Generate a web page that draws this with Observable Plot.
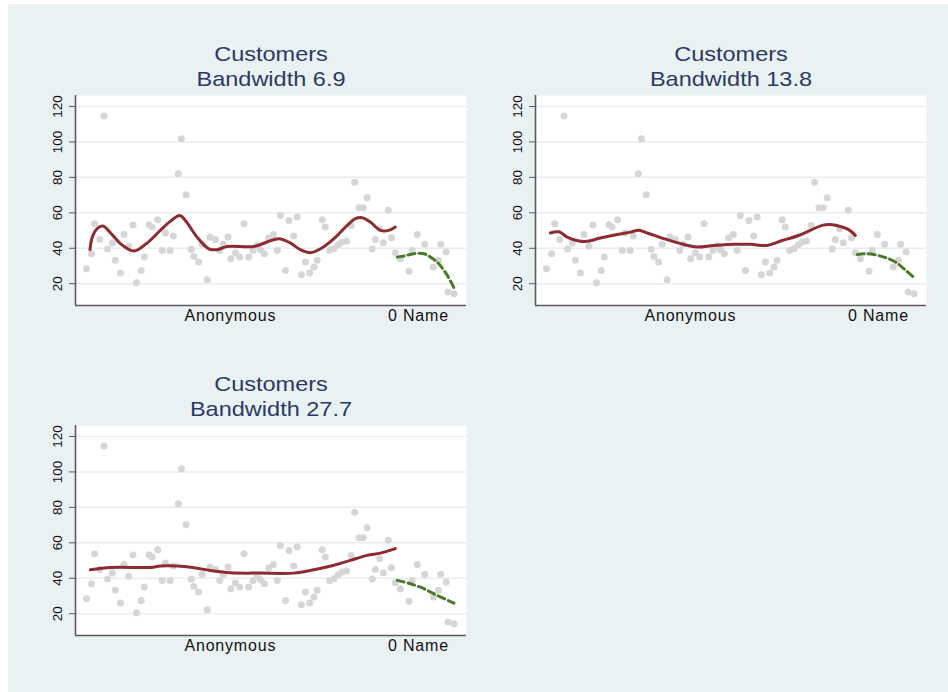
<!DOCTYPE html>
<html>
<head>
<meta charset="utf-8">
<script src="https://cdn.jsdelivr.net/npm/d3@7"></script>
<script src="https://cdn.jsdelivr.net/npm/@observablehq/plot@0.6"></script>
<style>
  html, body { margin: 0; padding: 0; background: #ffffff; }
  #bg { position: absolute; left: 8px; top: 4px; width: 940px; height: 688px; background: #eaf1f3; }
  .title { position: absolute; width: 420px; text-align: center; font-family: "Liberation Sans", Arial, sans-serif;
           font-size: 21px; line-height: 25px; color: #2b3a64; transform: scaleX(1.12); transform-origin: 50% 50%; }
  .panel { position: absolute; }
  .panel g[aria-label="x-axis tick label"] text { letter-spacing: 0.8px; }
</style>
</head>
<body>
<div id="bg"></div>
<script>
// ---- data ----
const yTicks = [20, 40, 60, 80, 100, 120];
const xTickPos = [39.6, 87.7];
const xTickLabels = ["Anonymous", "0 Name"];
const panelTitle = "Customers";
const bandwidths = [6.9, 13.8, 27.7];

// observation position (0-100 along axis) and Customers value
const anonX = [2.8,4.1,4.9,6.2,7.3,8.2,9.4,10.2,11.5,12.4,13.6,14.7,15.6,16.8,17.6,18.8,19.6,21.0,22.2,23.0,24.2,25.0,26.3,27.1,28.3,29.6,30.3,31.5,32.4,33.7,34.4,35.8,36.9,37.8,39.0,39.7,40.9,42.0,43.1,44.3,45.4,46.5,47.3,48.3,49.4,50.6,51.6,52.4,53.7,54.6,55.8,56.7,57.8,58.8,59.9,61.0,61.8,63.1,63.9,65.0,66.1,67.2,68.2,69.3,70.5,71.4,72.5,73.6,74.6,75.9,76.7,77.8,78.7,80.0,80.8];
const anonY = [28.5,36.9,53.8,45,114.6,39.6,43,33.2,26,47.8,41.2,53.1,20.6,27.5,35,53.3,52,56.1,38.8,48.6,38.8,46.9,82,101.8,70.2,39.4,35.4,32.2,42.2,22.3,46.3,45,38.8,42.2,46.3,34.1,37.3,35,53.8,35,38.8,41.6,39.2,36.9,45.9,47.8,38.8,58.5,27.5,55.7,46.9,57.6,25.1,32.2,26,29.4,33.2,56.1,52,38.8,39.7,42,43.5,44.1,52.9,77.3,62.9,62.9,68.5,39.6,45,51,43.1,61.4,45.9];
const nameX = [81.8,83.1,85.3,86.1,87.4,89.3,91.5,92.8,93.4,94.8,95.3,96.8];
const nameY = [37.5,34.1,27,38.8,47.8,42.2,29.4,33.2,42.2,37.9,15.3,14.4];

// lowess curves: [x, y]
const lowessAnon69 = [[3.7,39.2],[4.3,46.3],[5.5,51],[7.0,52.5],[9.0,48.6],[11.5,42.6],[14.9,38.4],[18.3,42.9],[21.7,50.1],[24.3,55.3],[26.7,58.5],[28.1,55.7],[31.1,46.3],[34.1,39.7],[36.2,39.2],[38.8,41],[45.6,41],[49.0,43.5],[52.0,45.4],[55.0,42.9],[57.5,39.2],[60.1,37.5],[62.7,39.7],[66.1,45.4],[69.5,52.9],[71.6,56.7],[73.3,57.2],[75.4,54.8],[78.0,50.1],[80.1,50.1],[81.8,52]];
const lowessName69 = [[82.3,35],[84.0,35.6],[86.5,36.9],[89.1,36.9],[90.8,35],[92.9,31.3],[95.1,24.7],[96.9,17.2]];
const lowessAnon138 = [[3.8,48.6],[6.0,49.3],[8.1,46.3],[11.1,44.1],[13.2,43.9],[16.6,45.8],[20.9,47.8],[24.3,49.1],[26.4,50.1],[28.6,48.6],[32.8,45.4],[37.1,42.6],[41.3,40.7],[45.6,41.6],[50.7,42.2],[55.0,42.2],[59.2,41.6],[62.7,44.1],[66.9,46.9],[70.3,50.1],[73.3,52.9],[75.9,53.3],[78.0,52.3],[80.1,50.5],[81.8,47.3]];
const lowessName138 = [[82.3,36.5],[84.0,36.9],[86.5,36.5],[89.1,35],[91.6,32.8],[94.2,28.5],[96.8,23.4]];
const lowessAnon277 = [[3.8,44.8],[9.0,46.1],[19.2,46.1],[21.7,46.9],[26.0,46.9],[30.3,45.9],[34.5,44.4],[39.6,43.1],[47.3,42.9],[55.8,42.9],[61.0,44.8],[66.1,47.3],[70.3,50.1],[74.6,52.9],[78.0,54.2],[81.8,56.7]];
const lowessName277 = [[82.3,38.8],[85.7,36.9],[89.1,34.1],[92.5,30.3],[96.8,26]];

// ---- build ----
const points = anonX.map((x, i) => ({x, y: anonY[i]}))
  .concat(nameX.map((x, i) => ({x, y: nameY[i]})));
const curves = [
  [lowessAnon69, lowessName69],
  [lowessAnon138, lowessName138],
  [lowessAnon277, lowessName277]
];
const panelPos = [[75, 95], [535, 95], [75, 425]];
const W = 391, H = 210, ML = 45, MT = 5, MB = 30, MR = 5;
const yDomain = [7.7, 126.2];
const xDomain = [0, 100];
const axisColor = "#5a5a5a";
const labelMap = new Map(xTickPos.map((p, i) => [p, xTickLabels[i]]));

curves.forEach(([anon, name], k) => {
  const [px, py] = panelPos[k];
  const title = document.createElement("div");
  title.className = "title";
  title.style.left = (px + W / 2 - 210) + "px";
  title.style.top = (py - 54) + "px";
  title.innerHTML = panelTitle + "<br>Bandwidth " + bandwidths[k];
  document.body.appendChild(title);

  const chart = Plot.plot({
    width: ML + W + MR,
    height: MT + H + MB,
    marginLeft: ML, marginRight: MR, marginTop: MT, marginBottom: MB,
    style: {background: "transparent", fontFamily: "Liberation Sans, Arial, sans-serif", fontSize: "16px", color: "#111"},
    x: {domain: xDomain, axis: null},
    y: {domain: yDomain, axis: null},
    marks: [
      Plot.frame({fill: "white", stroke: null}),
      Plot.gridY(yTicks, {stroke: "#e6eef1", strokeOpacity: 1, strokeWidth: 1.5}),
      Plot.dot(points, {x: "x", y: "y", r: 3.5, fill: "#d6d6d6", stroke: null}),
      Plot.line(anon, {x: d => d[0], y: d => d[1], stroke: "#8c2b30", strokeWidth: 3, curve: "catmull-rom"}),
      Plot.line(name, {x: d => d[0], y: d => d[1], stroke: "#4a7b2a", strokeWidth: 3, strokeDasharray: "7,4", curve: "catmull-rom"}),
      Plot.ruleX([xDomain[0]], {stroke: axisColor, strokeWidth: 1.6}),
      Plot.ruleY([yDomain[0]], {stroke: axisColor, strokeWidth: 1.6}),
      Plot.axisY({ticks: yTicks, tickSize: 6, tickFormat: () => "", stroke: axisColor, label: null}),
      Plot.text(yTicks, {y: d => d, text: d => String(d), frameAnchor: "left", dx: -18, rotate: -90,
        textAnchor: "middle", lineAnchor: "middle", fontSize: 13.5, fill: "#111"}),
      Plot.axisX({ticks: xTickPos, tickSize: 0, tickPadding: 4, tickFormat: d => labelMap.get(d), label: null, fontSize: 16})
    ]
  });
  chart.classList.add("panel");
  chart.style.left = (px - ML) + "px";
  chart.style.top = (py - MT) + "px";
  document.body.appendChild(chart);
});
</script>
</body>
</html>
